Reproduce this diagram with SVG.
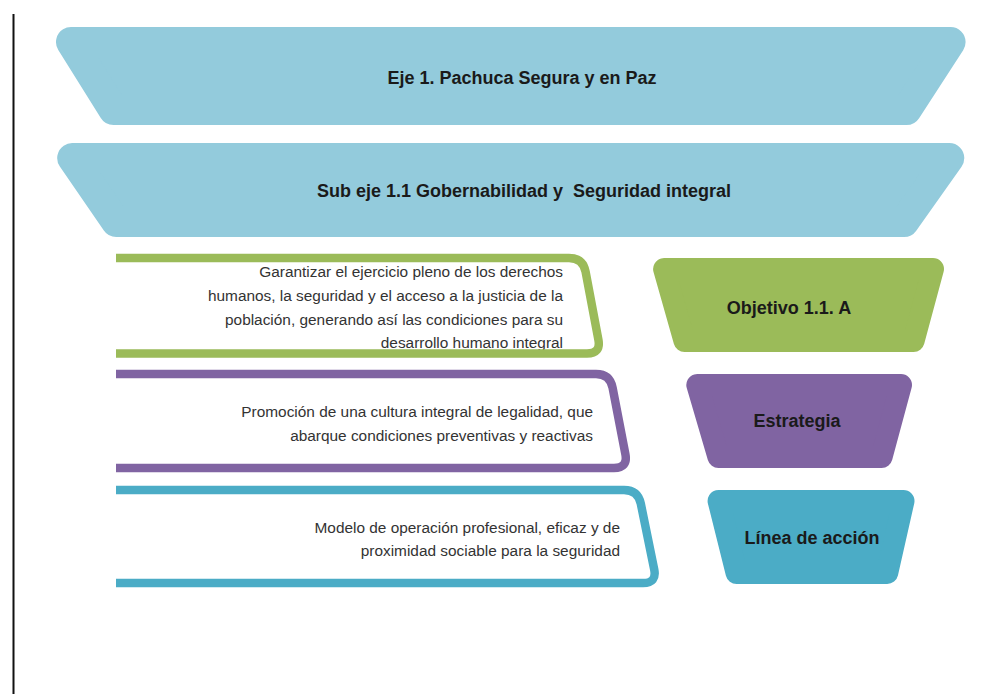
<svg xmlns="http://www.w3.org/2000/svg" width="1008" height="694" viewBox="0 0 1008 694">
<style>
.band{fill:#93CBDC;stroke:#93CBDC;stroke-width:30;stroke-linejoin:round}
.head{font-family:"Liberation Sans",Arial,sans-serif;font-weight:bold;font-size:18px;fill:#1a1a1a;text-anchor:middle}
.body{font-family:"Liberation Sans",Arial,sans-serif;font-size:15.4px;fill:#333333;text-anchor:end}
.card{fill:none;stroke-width:8.5;stroke-linecap:butt;stroke-linejoin:round}
.tag{stroke-width:22;stroke-linejoin:round}
</style>
<rect width="1008" height="694" fill="#ffffff"/>
<line x1="13.5" y1="14" x2="13.5" y2="694" stroke="#111111" stroke-width="2"/>

<g id="eje">
<polygon class="band" points="71,42 950.6,42 906.5,110 113.5,110"/>
<text class="head" x="522" y="84">Eje 1. Pachuca Segura y en Paz</text>
</g>

<g id="subeje">
<polygon class="band" points="72.2,158 949.3,158 904,222 116.2,222"/>
<text class="head" x="524" y="197" xml:space="preserve">Sub eje 1.1 Gobernabilidad y  Seguridad integral</text>
</g>

<g id="objetivo-texto">
<text class="body" x="563" y="277">Garantizar el ejercicio pleno de los derechos</text>
<text class="body" x="563" y="301">humanos, la seguridad y el acceso a la justicia de la</text>
<text class="body" x="563" y="325">población, generando así las condiciones para su</text>
<text class="body" x="563" y="348">desarrollo humano integral</text>
<path class="card" stroke="#9BBB59" d="M116,258 H569 Q583,258 585.6,271.8 L598.4,339.7 Q601,353.5 587,353.5 H116"/>
</g>

<g id="estrategia-texto">
<text class="body" x="593" y="417">Promoción de una cultura integral de legalidad, que</text>
<text class="body" x="593" y="441">abarque condiciones preventivas y reactivas</text>
<path class="card" stroke="#8064A2" d="M116,374 H596 Q610,374 612.6,387.8 L625.4,454.2 Q628,468 614,468 H116"/>
</g>

<g id="linea-texto">
<text class="body" x="620" y="533">Modelo de operación profesional, eficaz y de</text>
<text class="body" x="620" y="556">proximidad sociable para la seguridad</text>
<path class="card" stroke="#4BACC6" d="M116,490 H624 Q638,490 640.8,503.7 L654.2,569.3 Q657,583 643,583 H116"/>
</g>

<g id="objetivo">
<polygon class="tag" fill="#9BBB59" stroke="#9BBB59" points="664.1,269 933,269 913.6,341 684.5,341"/>
<text class="head" x="789" y="314">Objetivo 1.1. A</text>
</g>

<g id="estrategia">
<polygon class="tag" fill="#8064A2" stroke="#8064A2" points="697.3,385 901,385 881.6,457 718.4,457"/>
<text class="head" x="797" y="427">Estrategia</text>
</g>

<g id="linea">
<polygon class="tag" fill="#4BACC6" stroke="#4BACC6" points="718.6,501 903.5,501 887.2,573 736.6,573"/>
<text class="head" x="812" y="544">Línea de acción</text>
</g>

<g id="connectors"/>
</svg>
